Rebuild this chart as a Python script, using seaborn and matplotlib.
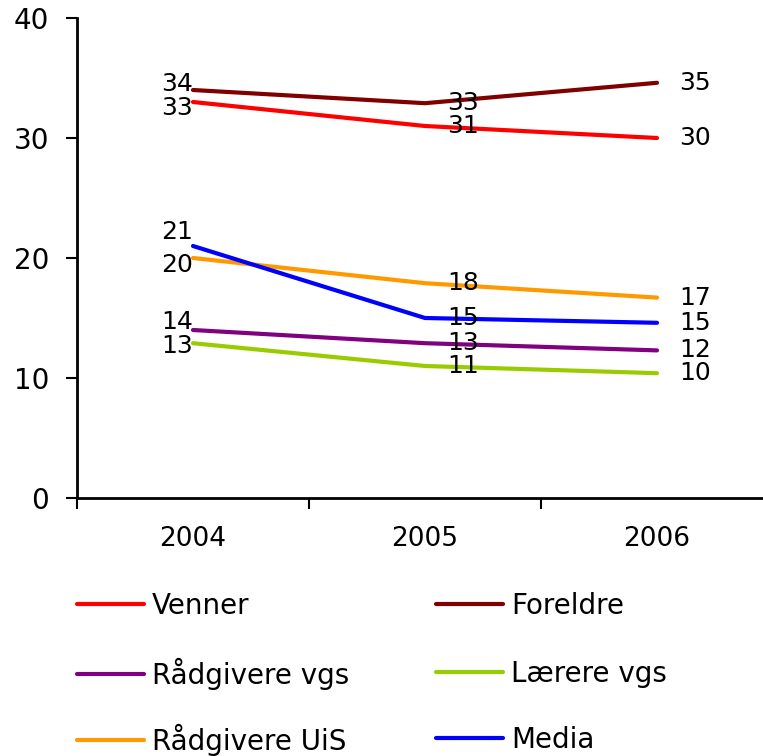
import pandas as pd
import matplotlib
matplotlib.use("Agg")
import matplotlib.pyplot as plt
import seaborn as sns

sns.set_style("ticks")
plt.rcParams['font.family'] = ['DejaVu Sans']
plt.rcParams['text.color'] = 'black'
plt.rcParams['xtick.color'] = 'black'
plt.rcParams['ytick.color'] = 'black'

# ------------------ Data ------------------
years = [2004, 2005, 2006]
series_names = ["Venner", "Foreldre", "Rådgivere vgs", "Lærere vgs", "Rådgivere UiS", "Media"]
venner = [33.0, 31.0, 30.0]
foreldre = [34.0, 32.9, 34.6]
raadgivere_vgs = [14.0, 12.9, 12.3]
laerere_vgs = [12.9, 11.0, 10.4]
raadgivere_uis = [20.0, 17.9, 16.7]
media = [21.0, 15.0, 14.6]
y_ticks = [0, 10, 20, 30, 40]

colors = {
    "Venner": "#FF0000",
    "Foreldre": "#800000",
    "Rådgivere vgs": "#800080",
    "Lærere vgs": "#99CC00",
    "Rådgivere UiS": "#FF9900",
    "Media": "#0000FF",
}

# vertical nudge (points) of the 2004 labels, so they do not collide
first_label_dy = {
    "Venner": -4, "Foreldre": 4, "Rådgivere vgs": 6,
    "Lærere vgs": -2, "Rådgivere UiS": -5, "Media": 10,
}

all_values = [venner, foreldre, raadgivere_vgs, laerere_vgs, raadgivere_uis, media]
rows = []
for name, vals in zip(series_names, all_values):
    for yr, v in zip(years, vals):
        rows.append({"Kilde": name, "År": yr, "Verdi": v})
df = pd.DataFrame(rows)

# ------------------ Plot ------------------
fig = plt.figure(figsize=(7.63, 7.56), dpi=100)
ax = fig.add_axes([77 / 763, 1 - 498 / 756, 696 / 763, 480 / 756])

sns.lineplot(data=df, x="År", y="Verdi", hue="Kilde", hue_order=series_names,
             palette=colors, linewidth=3, ax=ax, legend=True)
for line in ax.lines:
    line.set_solid_capstyle("round")

# value labels
for name, vals in zip(series_names, all_values):
    for i, (yr, v) in enumerate(zip(years, vals)):
        if i == 0:
            ax.annotate(f"{v:.0f}", (yr, v), xytext=(0, first_label_dy[name]),
                        textcoords="offset points", ha="right", va="center", fontsize=18)
        else:
            ax.annotate(f"{v:.0f}", (yr, v), xytext=(16, 0),
                        textcoords="offset points", ha="left", va="center", fontsize=18)

ax.set_xlim(2003.5, 2006.5)
ax.set_ylim(0, 40)
ax.set_yticks(y_ticks)
ax.set_xticks([2003.5, 2004.5, 2005.5, 2006.5])
ax.set_xticklabels([])
ax.set_xticks(years, minor=True)
ax.set_xticklabels([str(y) for y in years], minor=True, fontsize=19)
ax.tick_params(axis="x", which="minor", bottom=False, length=0, pad=20)
ax.tick_params(axis="x", which="major", bottom=True, direction="out", length=8, width=1.5)
ax.tick_params(axis="y", left=True, direction="out", length=8, width=1.5, labelsize=20, pad=12)
ax.set_xlabel("")
ax.set_ylabel("")
sns.despine(ax=ax)
for s in ["left", "bottom"]:
    ax.spines[s].set_color("black")
    ax.spines[s].set_linewidth(2)

# legend: one small legend per entry, so the rows stay evenly spaced
handles, labels = ax.get_legend_handles_labels()
ax.get_legend().remove()
col_x = [77, 436]
row_y = [606, 674, 740]
for k, (h, lab) in enumerate(zip(handles, labels)):
    r, c = divmod(k, 2)
    leg = fig.legend([h], [lab], loc="center left",
                     bbox_to_anchor=(col_x[c] / 763, 1 - row_y[r] / 756),
                     frameon=False, fontsize=20, handlelength=2.4, handletextpad=0.3,
                     borderpad=0, borderaxespad=0)

fig.savefig("out.png", dpi=100)
